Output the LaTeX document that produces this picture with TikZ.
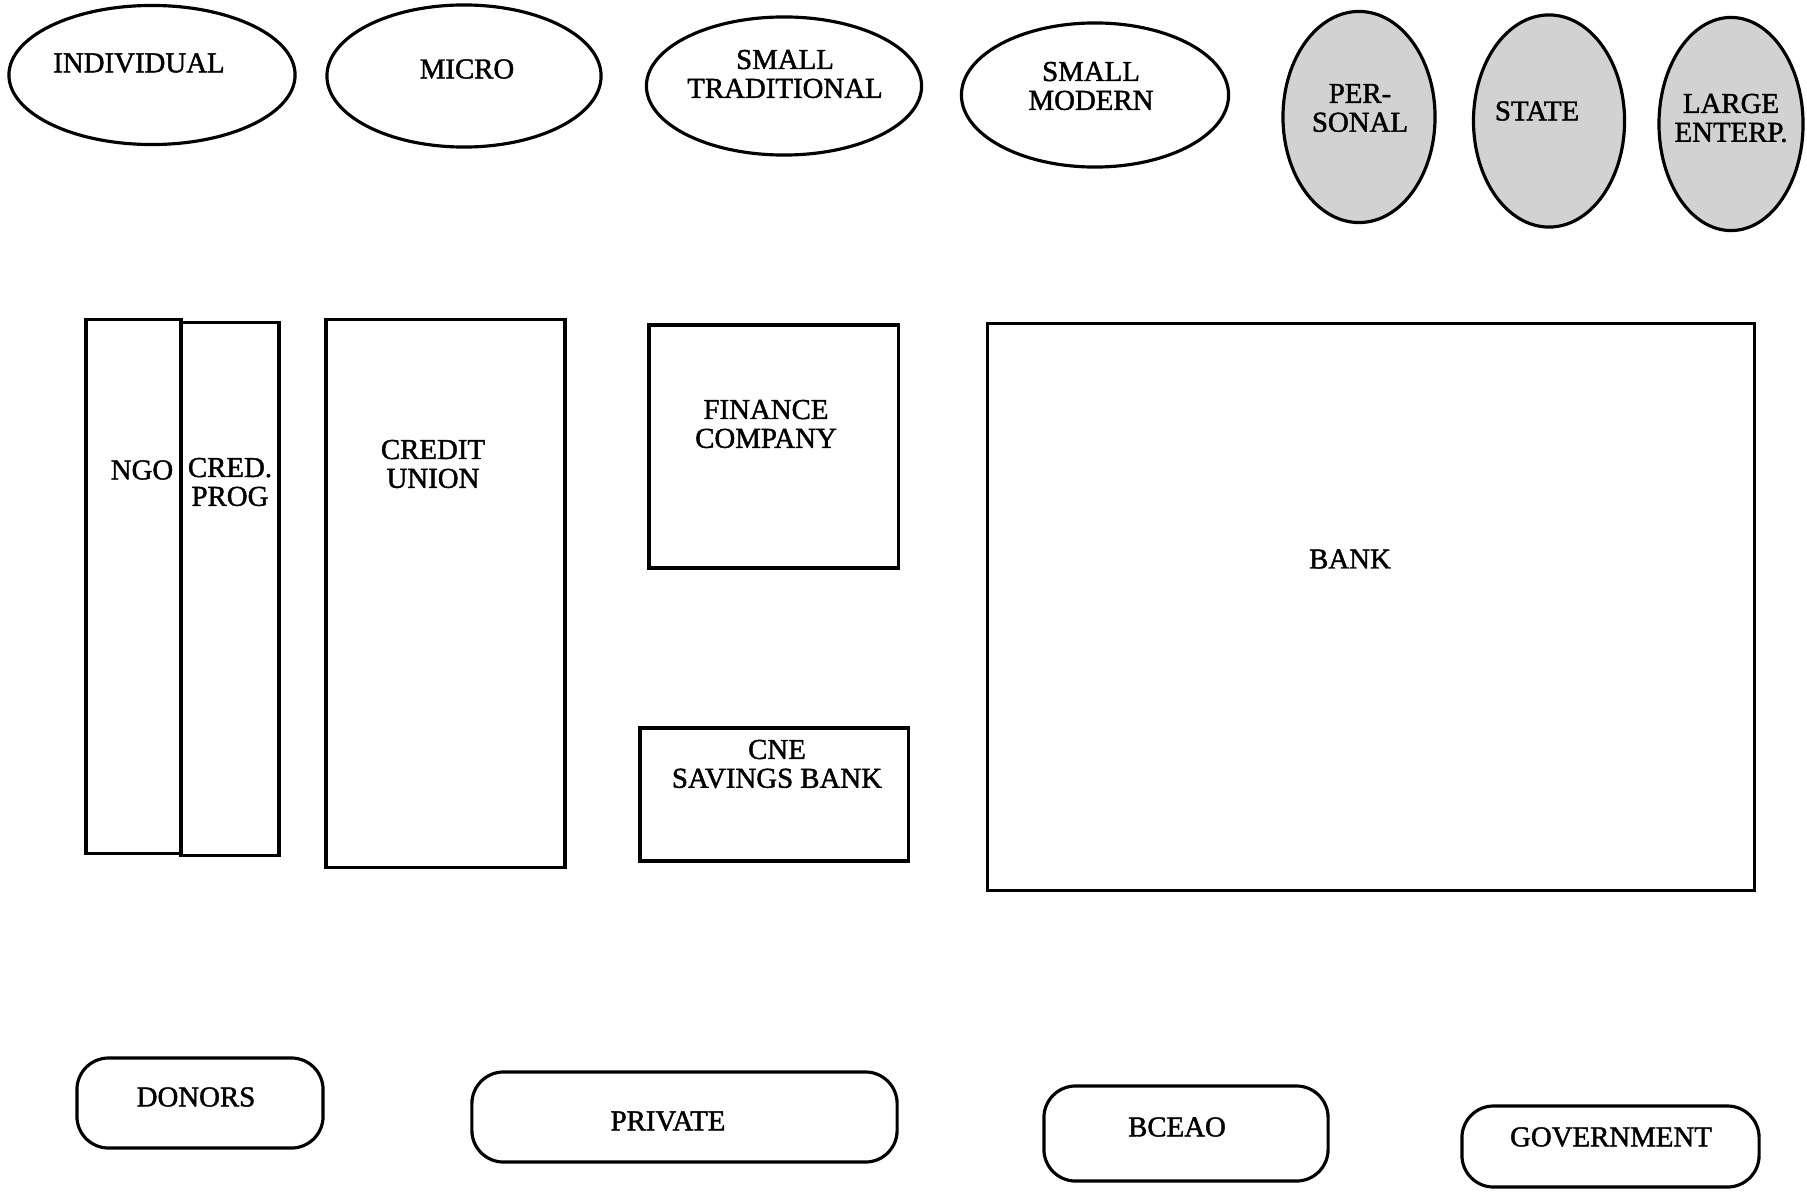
\documentclass[tikz,border=0pt]{standalone}
\usepackage{fontspec}
\setmainfont{Liberation Serif}
\newfontfamily\scanfont{Liberation Serif}[FakeBold=1.5]
\usetikzlibrary{shapes.geometric}
\newcommand{\lblfont}{\scanfont\fontsize{8.2}{8.2}\selectfont}

\begin{document}
\begin{tikzpicture}[
    x=0.01cm, y=-0.01cm,
    seg/.style={draw, ellipse, line width=0.9pt, inner sep=0pt},
    segdark/.style={seg, fill=gray!35},
    inst/.style={draw, rectangle, line width=0.9pt, inner sep=0pt},
    src/.style={draw, rounded corners=9pt, line width=0.9pt, inner sep=0pt},
    lbl/.style={align=center, inner sep=0pt, font=\lblfont},
]
    \useasboundingbox (0,0) rectangle (1807,1191);

    % clients
    \node[seg, minimum width=2.86cm, minimum height=1.39cm] (indiv) at (152,75) {};
    \node[seg, minimum width=2.74cm, minimum height=1.42cm] (micro) at (464,76) {};
    \node[seg, minimum width=2.75cm, minimum height=1.38cm] (smtrad) at (784,86) {};
    \node[seg, minimum width=2.67cm, minimum height=1.44cm] (smmod) at (1095,95) {};
    \node[segdark, minimum width=1.52cm, minimum height=2.11cm] (pers) at (1359,117) {};
    \node[segdark, minimum width=1.51cm, minimum height=2.12cm] (state) at (1549,121) {};
    \node[segdark, minimum width=1.44cm, minimum height=2.13cm] (large) at (1731,124) {};

    \node[lbl] (indivtxt) at (139,63) {INDIVIDUAL};
    \node[lbl] (microtxt) at (467,69) {MICRO};
    \node[lbl] (smtradtxt) at (785,74) {SMALL\\TRADITIONAL};
    \node[lbl] (smmodtxt) at (1091,86) {SMALL\\MODERN};
    \node[lbl] (perstxt) at (1360,108) {PER-\\SONAL};
    \node[lbl] (statetxt) at (1537,111) {STATE};
    \node[lbl] (largetxt) at (1731,118) {LARGE\\ENTERP.};

    % institutions
    \node[inst, minimum width=0.95cm, minimum height=5.33cm] (ngo) at (133.5,586.5) {};
    \node[inst, minimum width=0.98cm, minimum height=5.32cm] (cred) at (230,589) {};
    \node[inst, minimum width=2.39cm, minimum height=5.47cm] (cu) at (445.5,593.5) {};
    \node[inst, minimum width=2.49cm, minimum height=2.43cm] (finco) at (773.5,446.5) {};
    \node[inst, minimum width=2.68cm, minimum height=1.33cm] (cne) at (774,794.5) {};
    \node[inst, minimum width=7.66cm, minimum height=5.66cm] (bank) at (1371,607) {};

    \node[lbl] (ngotxt) at (142,470) {NGO};
    \node[lbl] (credtxt) at (230,482) {CRED.\\PROG};
    \node[lbl] (cutxt) at (433,464) {CREDIT\\UNION};
    \node[lbl] (fincotxt) at (766,424) {FINANCE\\COMPANY};
    \node[lbl] (cnetxt) at (777,764) {CNE\\SAVINGS BANK};
    \node[lbl] (banktxt) at (1350,559) {BANK};

    % funding sources
    \node[src, minimum width=2.46cm, minimum height=0.90cm] (donors) at (200,1103) {};
    \node[src, minimum width=4.25cm, minimum height=0.90cm] (private) at (684.5,1117) {};
    \node[src, minimum width=2.84cm, minimum height=0.95cm] (bceao) at (1186,1133.5) {};
    \node[src, minimum width=2.97cm, minimum height=0.81cm] (govt) at (1610.5,1146.5) {};

    \node[lbl] (donorstxt) at (196,1097) {DONORS};
    \node[lbl] (privatetxt) at (668,1121) {PRIVATE};
    \node[lbl] (bceaotxt) at (1177,1127) {BCEAO};
    \node[lbl] (govttxt) at (1611,1137) {GOVERNMENT};
\end{tikzpicture}
\end{document}
